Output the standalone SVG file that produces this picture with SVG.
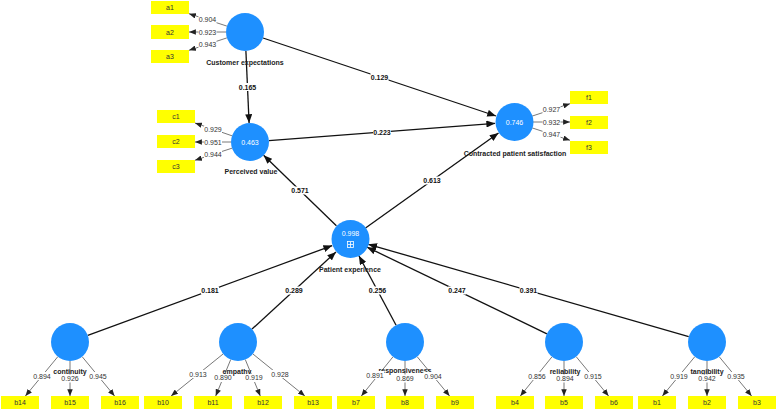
<svg xmlns="http://www.w3.org/2000/svg" width="777" height="411" viewBox="0 0 777 411">
<style>
.bg{fill:#ffffff}
.s{stroke:#111;stroke-width:1.3;fill:none;marker-end:url(#ah)}
.l{stroke:#555;stroke-width:0.8;fill:none;marker-end:url(#al)}
.lb{fill:#fff}
.pc{font-family:"Liberation Sans",Arial,sans-serif;font-size:7px;font-weight:bold;fill:#111;text-anchor:middle}
.ld{font-family:"Liberation Sans",Arial,sans-serif;font-size:7px;fill:#333;text-anchor:middle}
.c{fill:#1E90FF}
.cv{font-family:"Liberation Sans",Arial,sans-serif;font-size:7px;fill:#fff;text-anchor:middle}
.cn{font-family:"Liberation Sans",Arial,sans-serif;font-size:7px;font-weight:bold;fill:#222;text-anchor:middle}
.bx{fill:#FFFF00}
.bt{font-family:"Liberation Sans",Arial,sans-serif;font-size:7px;fill:#333;text-anchor:middle}
</style>
<defs>
<marker id="ah" viewBox="0 0 10 8" refX="10" refY="4" markerWidth="9" markerHeight="7" markerUnits="userSpaceOnUse" orient="auto"><path d="M0,0 L10,4 L0,8 z" fill="#111"/></marker>
<marker id="al" viewBox="0 0 10 8" refX="10" refY="4" markerWidth="7" markerHeight="5.5" markerUnits="userSpaceOnUse" orient="auto"><path d="M0,0 L10,4 L0,8 z" fill="#222"/></marker>
</defs>
<rect class="bg" x="0" y="0" width="777" height="411"/>

<g id="connectors">
  <!-- structural paths -->
  <line class="s" x1="245.9" y1="51" x2="249.1" y2="123"/>
  <line class="s" x1="263" y1="38" x2="496" y2="116"/>
  <line class="s" x1="268.9" y1="140.6" x2="495.1" y2="123.4"/>
  <line class="s" x1="336.4" y1="225.8" x2="263.6" y2="155.2"/>
  <line class="s" x1="365.5" y1="228" x2="498.5" y2="133"/>
  <line class="s" x1="87.8" y1="335.4" x2="332.2" y2="245.6"/>
  <line class="s" x1="252" y1="329.1" x2="336" y2="251.9"/>
  <line class="s" x1="396.1" y1="325.2" x2="358.9" y2="255.8"/>
  <line class="s" x1="546.9" y1="333.8" x2="367.1" y2="247.2"/>
  <line class="s" x1="688.7" y1="336.7" x2="368.3" y2="244.3"/>
  <!-- path coefficient labels -->
  <rect class="lb" x="238.5" y="83" width="18" height="8"/><text class="pc" x="247.5" y="89.5">0.165</text>
  <rect class="lb" x="370.5" y="73" width="18" height="8"/><text class="pc" x="379.5" y="79.5">0.129</text>
  <rect class="lb" x="373" y="128" width="18" height="8"/><text class="pc" x="382" y="134.5">0.223</text>
  <rect class="lb" x="291" y="186.5" width="18" height="8"/><text class="pc" x="300" y="193">0.571</text>
  <rect class="lb" x="423" y="176.5" width="18" height="8"/><text class="pc" x="432" y="183">0.613</text>
  <rect class="lb" x="201" y="286.5" width="18" height="8"/><text class="pc" x="210" y="293">0.181</text>
  <rect class="lb" x="285" y="286.5" width="18" height="8"/><text class="pc" x="294" y="293">0.289</text>
  <rect class="lb" x="368.5" y="286.5" width="18" height="8"/><text class="pc" x="377.5" y="293">0.256</text>
  <rect class="lb" x="448" y="286.5" width="18" height="8"/><text class="pc" x="457" y="293">0.247</text>
  <rect class="lb" x="519.5" y="286.5" width="18" height="8"/><text class="pc" x="528.5" y="293">0.391</text>

  <!-- loadings: customer expectations -->
  <line class="l" x1="226.9" y1="26.1" x2="189" y2="13.7"/>
  <line class="l" x1="226" y1="32" x2="189" y2="32"/>
  <line class="l" x1="226.9" y1="37.9" x2="189" y2="50.3"/>
  <rect class="lb" x="198.5" y="16" width="18" height="8"/><text class="ld" x="207.5" y="22.3">0.904</text>
  <rect class="lb" x="198.5" y="28" width="18" height="8"/><text class="ld" x="207.5" y="34.5">0.923</text>
  <rect class="lb" x="198.5" y="40" width="18" height="8"/><text class="ld" x="207.5" y="46.5">0.943</text>
  <!-- loadings: perceived value -->
  <line class="l" x1="232" y1="135.8" x2="195" y2="123"/>
  <line class="l" x1="231" y1="142" x2="195" y2="142"/>
  <line class="l" x1="232" y1="148.2" x2="195" y2="160.2"/>
  <rect class="lb" x="204" y="125.5" width="18" height="8"/><text class="ld" x="213" y="131.8">0.929</text>
  <rect class="lb" x="204" y="138" width="18" height="8"/><text class="ld" x="213" y="144.5">0.951</text>
  <rect class="lb" x="204" y="150.3" width="18" height="8"/><text class="ld" x="213" y="156.7">0.944</text>
  <!-- loadings: contracted patient satisfaction -->
  <line class="l" x1="532.1" y1="116.1" x2="570" y2="103.7"/>
  <line class="l" x1="533" y1="122" x2="570" y2="122"/>
  <line class="l" x1="532.1" y1="127.9" x2="570" y2="140.3"/>
  <rect class="lb" x="542.5" y="106" width="18" height="8"/><text class="ld" x="551.5" y="112.3">0.927</text>
  <rect class="lb" x="542.5" y="118" width="18" height="8"/><text class="ld" x="551.5" y="124.5">0.932</text>
  <rect class="lb" x="542.5" y="130.3" width="18" height="8"/><text class="ld" x="551.5" y="136.7">0.947</text>
  <!-- loadings: continuity -->
  <line class="l" x1="57.9" y1="356.6" x2="25.4" y2="396"/>
  <line class="l" x1="70" y1="361" x2="70" y2="396"/>
  <line class="l" x1="82.1" y1="356.6" x2="114.6" y2="396"/>
  <!-- loadings: empathy -->
  <line class="l" x1="223.2" y1="353.9" x2="171.1" y2="396"/>
  <line class="l" x1="230.7" y1="359.6" x2="215.7" y2="396"/>
  <line class="l" x1="245.3" y1="359.6" x2="260.3" y2="396"/>
  <line class="l" x1="252.8" y1="353.9" x2="304.9" y2="396"/>
  <!-- loadings: responsiveness -->
  <line class="l" x1="393" y1="356.8" x2="361.3" y2="396"/>
  <line class="l" x1="405" y1="361" x2="405" y2="396"/>
  <line class="l" x1="417.1" y1="356.6" x2="449.6" y2="396"/>
  <!-- loadings: reliability -->
  <line class="l" x1="552" y1="356.8" x2="520.3" y2="396"/>
  <line class="l" x1="564" y1="361" x2="564" y2="396"/>
  <line class="l" x1="576.1" y1="356.6" x2="608.6" y2="396"/>
  <!-- loadings: tangibility -->
  <line class="l" x1="694.9" y1="356.6" x2="662.4" y2="396"/>
  <line class="l" x1="707" y1="361" x2="707" y2="396"/>
  <line class="l" x1="719.1" y1="356.6" x2="751.6" y2="396"/>
</g>

<g id="construct-customer-expectations">
  <circle class="c" cx="245" cy="32" r="19"/>
  <text class="cn" x="245" y="64.5">Customer expectations</text>
</g>
<g id="construct-perceived-value">
  <circle class="c" cx="250" cy="142" r="19"/>
  <text class="cv" x="250" y="144.5">0.463</text>
  <text class="cn" x="251" y="173.5">Perceived value</text>
</g>
<g id="construct-contracted-patient-satisfaction">
  <circle class="c" cx="514.5" cy="122" r="19"/>
  <text class="cv" x="514.5" y="124.5">0.746</text>
  <text class="cn" x="515" y="155.5">Contracted patient satisfaction</text>
</g>
<g id="construct-patient-experience">
  <circle class="c" cx="350.5" cy="239" r="19"/>
  <text class="cv" x="350.5" y="235.5">0.998</text>
  <rect x="347.5" y="241.5" width="6" height="6" fill="none" stroke="#fff" stroke-width="0.8"/>
  <line x1="350.5" y1="242" x2="350.5" y2="247" stroke="#fff" stroke-width="0.8"/>
  <line x1="348" y1="244.5" x2="353" y2="244.5" stroke="#fff" stroke-width="0.8"/>
  <text class="cn" x="350" y="271.5">Patient experience</text>
</g>
<g id="construct-continuity">
  <circle class="c" cx="70" cy="342" r="19"/>
  <text class="cn" x="70" y="373.5">continuity</text>
</g>
<g id="construct-empathy">
  <circle class="c" cx="238" cy="342" r="19"/>
  <text class="cn" x="237" y="373.5">empathy</text>
</g>
<g id="construct-responsiveness">
  <circle class="c" cx="405" cy="342" r="19"/>
  <text class="cn" x="405" y="372.5">responsiveness</text>
</g>
<g id="construct-reliability">
  <circle class="c" cx="564" cy="342" r="19"/>
  <text class="cn" x="565" y="373.5">reliability</text>
</g>
<g id="construct-tangibility">
  <circle class="c" cx="707" cy="342" r="19"/>
  <text class="cn" x="707" y="373.5">tangibility</text>
</g>

<g id="bottom-loading-labels">
  <rect class="lb" x="33" y="372" width="18" height="8"/><text class="ld" x="42" y="378.5">0.894</text>
  <rect class="lb" x="61" y="374.5" width="18" height="8"/><text class="ld" x="70" y="380.5">0.926</text>
  <rect class="lb" x="89" y="372" width="18" height="8"/><text class="ld" x="98" y="378.5">0.945</text>
  <rect class="lb" x="189" y="370" width="18" height="8"/><text class="ld" x="198" y="376.5">0.913</text>
  <rect class="lb" x="214" y="374" width="18" height="8"/><text class="ld" x="223" y="379.5">0.890</text>
  <rect class="lb" x="245" y="374" width="18" height="8"/><text class="ld" x="254" y="379.5">0.919</text>
  <rect class="lb" x="271" y="370" width="18" height="8"/><text class="ld" x="280" y="376.5">0.928</text>
  <rect class="lb" x="366" y="371" width="18" height="8"/><text class="ld" x="375" y="377.5">0.891</text>
  <rect class="lb" x="396" y="374.5" width="18" height="8"/><text class="ld" x="405" y="380.5">0.869</text>
  <rect class="lb" x="424" y="372" width="18" height="8"/><text class="ld" x="433" y="378.5">0.904</text>
  <rect class="lb" x="528" y="372" width="18" height="8"/><text class="ld" x="537" y="378.5">0.856</text>
  <rect class="lb" x="556" y="374.5" width="18" height="8"/><text class="ld" x="565" y="380.5">0.894</text>
  <rect class="lb" x="584" y="372" width="18" height="8"/><text class="ld" x="593" y="378.5">0.915</text>
  <rect class="lb" x="670" y="372" width="18" height="8"/><text class="ld" x="679" y="378.5">0.919</text>
  <rect class="lb" x="698" y="374.5" width="18" height="8"/><text class="ld" x="707" y="380.5">0.942</text>
  <rect class="lb" x="727" y="372" width="18" height="8"/><text class="ld" x="736" y="378.5">0.935</text>
</g>

<g id="ind-a1"><rect class="bx" x="151" y="1" width="38" height="13"/><text class="bt" x="170" y="10">a1</text></g>
<g id="ind-a2"><rect class="bx" x="151" y="25" width="38" height="14"/><text class="bt" x="170" y="34.5">a2</text></g>
<g id="ind-a3"><rect class="bx" x="151" y="50" width="38" height="13"/><text class="bt" x="170" y="59">a3</text></g>
<g id="ind-c1"><rect class="bx" x="157" y="110" width="38" height="13"/><text class="bt" x="176" y="119">c1</text></g>
<g id="ind-c2"><rect class="bx" x="157" y="135" width="38" height="13"/><text class="bt" x="176" y="144">c2</text></g>
<g id="ind-c3"><rect class="bx" x="157" y="160" width="38" height="13"/><text class="bt" x="176" y="169">c3</text></g>
<g id="ind-f1"><rect class="bx" x="570" y="91" width="38" height="13"/><text class="bt" x="589" y="100">f1</text></g>
<g id="ind-f2"><rect class="bx" x="570" y="116" width="38" height="13"/><text class="bt" x="589" y="125">f2</text></g>
<g id="ind-f3"><rect class="bx" x="570" y="141" width="38" height="13"/><text class="bt" x="589" y="150">f3</text></g>
<g id="ind-b14"><rect class="bx" x="1" y="396" width="38" height="13"/><text class="bt" x="20" y="405">b14</text></g>
<g id="ind-b15"><rect class="bx" x="51" y="396" width="38" height="13"/><text class="bt" x="70" y="405">b15</text></g>
<g id="ind-b16"><rect class="bx" x="101" y="396" width="38" height="13"/><text class="bt" x="120" y="405">b16</text></g>
<g id="ind-b10"><rect class="bx" x="144" y="396" width="38" height="13"/><text class="bt" x="163" y="405">b10</text></g>
<g id="ind-b11"><rect class="bx" x="194" y="396" width="38" height="13"/><text class="bt" x="213" y="405">b11</text></g>
<g id="ind-b12"><rect class="bx" x="244" y="396" width="38" height="13"/><text class="bt" x="263" y="405">b12</text></g>
<g id="ind-b13"><rect class="bx" x="294" y="396" width="38" height="13"/><text class="bt" x="313" y="405">b13</text></g>
<g id="ind-b7"><rect class="bx" x="337" y="396" width="38" height="13"/><text class="bt" x="356" y="405">b7</text></g>
<g id="ind-b8"><rect class="bx" x="386" y="396" width="38" height="13"/><text class="bt" x="405" y="405">b8</text></g>
<g id="ind-b9"><rect class="bx" x="436" y="396" width="38" height="13"/><text class="bt" x="455" y="405">b9</text></g>
<g id="ind-b4"><rect class="bx" x="496" y="396" width="38" height="13"/><text class="bt" x="515" y="405">b4</text></g>
<g id="ind-b5"><rect class="bx" x="545" y="396" width="38" height="13"/><text class="bt" x="564" y="405">b5</text></g>
<g id="ind-b6"><rect class="bx" x="595" y="396" width="38" height="13"/><text class="bt" x="614" y="405">b6</text></g>
<g id="ind-b1"><rect class="bx" x="638" y="396" width="38" height="13"/><text class="bt" x="657" y="405">b1</text></g>
<g id="ind-b2"><rect class="bx" x="688" y="396" width="38" height="13"/><text class="bt" x="707" y="405">b2</text></g>
<g id="ind-b3"><rect class="bx" x="738" y="396" width="38" height="13"/><text class="bt" x="757" y="405">b3</text></g>
</svg>
